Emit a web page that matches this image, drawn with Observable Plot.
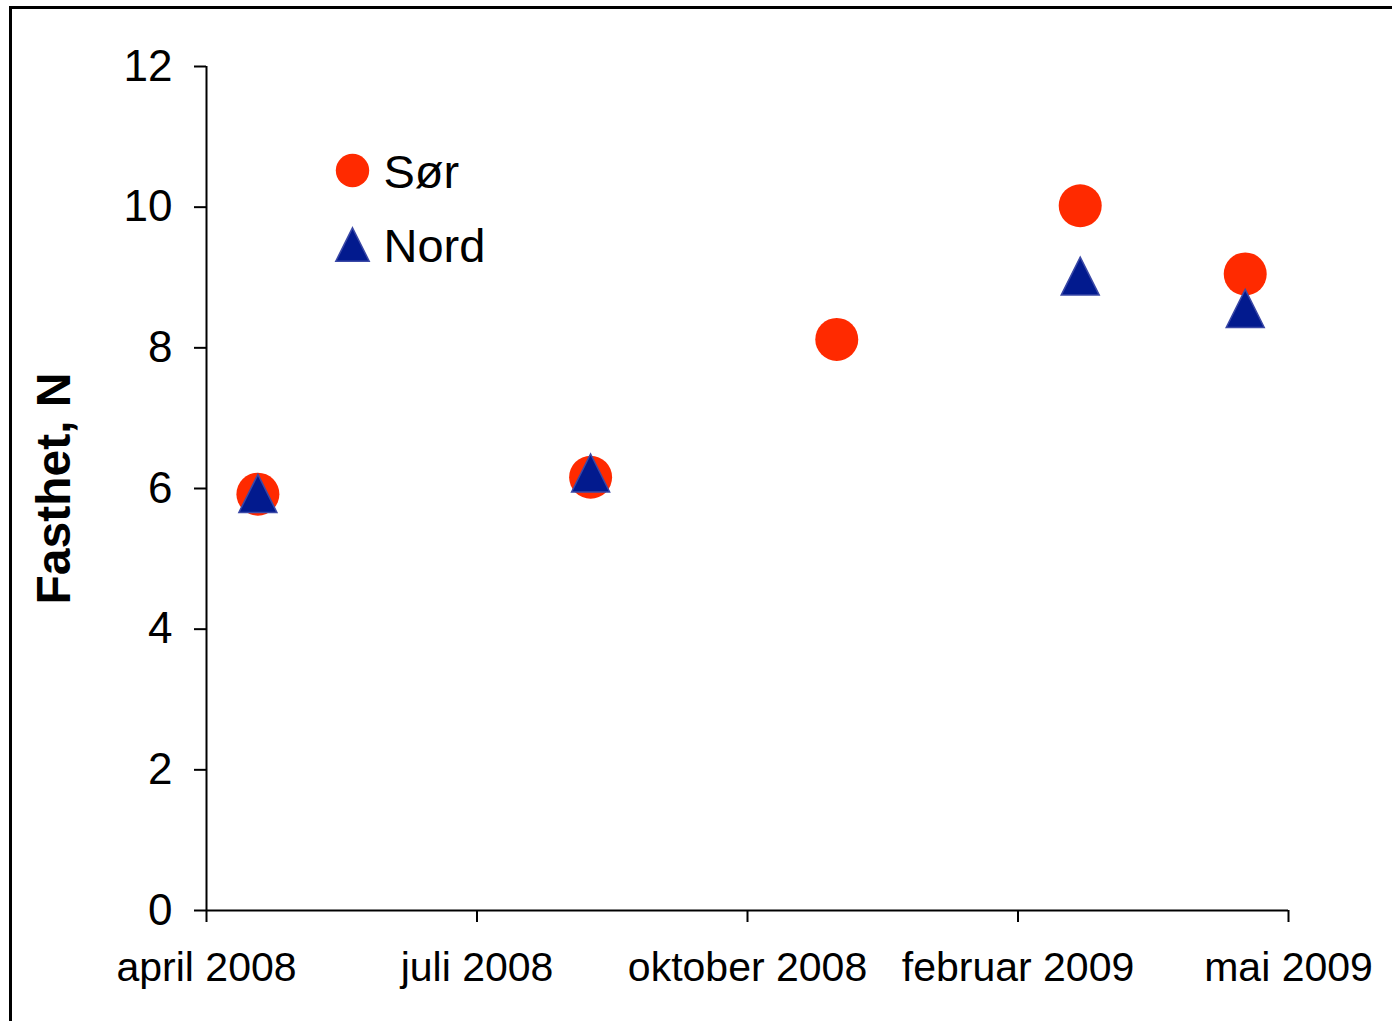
<!DOCTYPE html>
<html>
<head>
<meta charset="utf-8">
<script src="https://cdn.jsdelivr.net/npm/d3@7"></script>
<script src="https://cdn.jsdelivr.net/npm/@observablehq/plot@0.6"></script>
<style>
  html, body { margin: 0; padding: 0; background: #fff; overflow: hidden; }
  #wrap { position: relative; width: 1392px; height: 1021px; }
  #wrap svg { position: absolute; left: 0; top: 0; }
  #frame { position: absolute; left: 9px; top: 6px; width: 2000px; height: 2000px;
           border-left: 3px solid #000; border-top: 3px solid #000; pointer-events: none; }
</style>
</head>
<body>
<div id="wrap"><div id="frame"></div></div>
<script>
// X tick labels (evenly spaced category-like date axis)
const xTickLabels = ["april 2008", "juli 2008", "oktober 2008", "februar 2009", "mai 2009"];
const xTicks = [0, 1, 2, 3, 4];
const yTicks = [0, 2, 4, 6, 8, 10, 12];

// Series: Sør (red circles)
const sorX = [0.19, 1.42, 2.33, 3.23, 3.84];
const sorY = [5.92, 6.16, 8.12, 10.02, 9.05];
// Series: Nord (blue triangles)
const nordX = [0.19, 1.42, 3.23, 3.84];
const nordY = [5.93, 6.22, 9.02, 8.56];

const seriesNames = ["Sør", "Nord"];
const yLabel = "Fasthet, N";

const sor = sorX.map((x, i) => ({x, y: sorY[i]}));
const nord = nordX.map((x, i) => ({x, y: nordY[i]}));

// Excel-like triangle (width == height), centered on its bounding box
const tri = {
  draw(context, size) {
    const h = Math.sqrt(size / Math.PI);
    context.moveTo(0, -h);
    context.lineTo(h, h);
    context.lineTo(-h, h);
    context.closePath();
  }
};

const font = "'Liberation Sans', Arial, Helvetica, sans-serif";
const red = "#ff2a00";
const blue = "#021a8e";
const blueStroke = "#3a48a6";

const chart = Plot.plot({
  width: 1392,
  height: 1021,
  marginLeft: 206,
  marginRight: 104,
  marginTop: 66,
  marginBottom: 111,
  style: {fontFamily: font, color: "#000", background: "transparent"},
  x: {domain: [0, 4]},
  y: {domain: [0, 12]},
  marks: [
    Plot.axisY({ticks: yTicks, tickSize: 12, tickPadding: 22, fontSize: 44, strokeWidth: 2, label: null, tickFormat: d => String(d)}),
    Plot.axisX({ticks: xTicks, tickSize: 12, tickPadding: 29, fontSize: 41, strokeWidth: 2, label: null, tickFormat: i => xTickLabels[i]}),
    Plot.ruleX([0], {stroke: "#000", strokeWidth: 2}),
    Plot.ruleY([0], {stroke: "#000", strokeWidth: 2}),
    Plot.text([yLabel], {text: d => d, frameAnchor: "left", rotate: -90, dx: -152, textAnchor: "middle", lineAnchor: "middle", fontSize: 48, fontWeight: "bold", fill: "#000"}),
    Plot.dot(sor, {x: "x", y: "y", r: 21.5, fill: red, stroke: "none"}),
    Plot.dot(nord, {x: "x", y: "y", r: 19, symbol: tri, fill: blue, stroke: blueStroke, strokeWidth: 1.5}),
    // Legend
    Plot.dot([seriesNames[0]], {frameAnchor: "top-left", dx: 146, dy: 104, r: 16.7, fill: red, stroke: "none"}),
    Plot.text([seriesNames[0]], {text: d => d, frameAnchor: "top-left", dx: 177, dy: 106, textAnchor: "start", lineAnchor: "middle", fontSize: 47, fill: "#000"}),
    Plot.dot([seriesNames[1]], {frameAnchor: "top-left", dx: 146, dy: 178, r: 16.7, symbol: tri, fill: blue, stroke: blueStroke, strokeWidth: 1.5}),
    Plot.text([seriesNames[1]], {text: d => d, frameAnchor: "top-left", dx: 177, dy: 180, textAnchor: "start", lineAnchor: "middle", fontSize: 47, fill: "#000"})
  ]
});

document.getElementById("wrap").insertBefore(chart, document.getElementById("frame"));
</script>
</body>
</html>
